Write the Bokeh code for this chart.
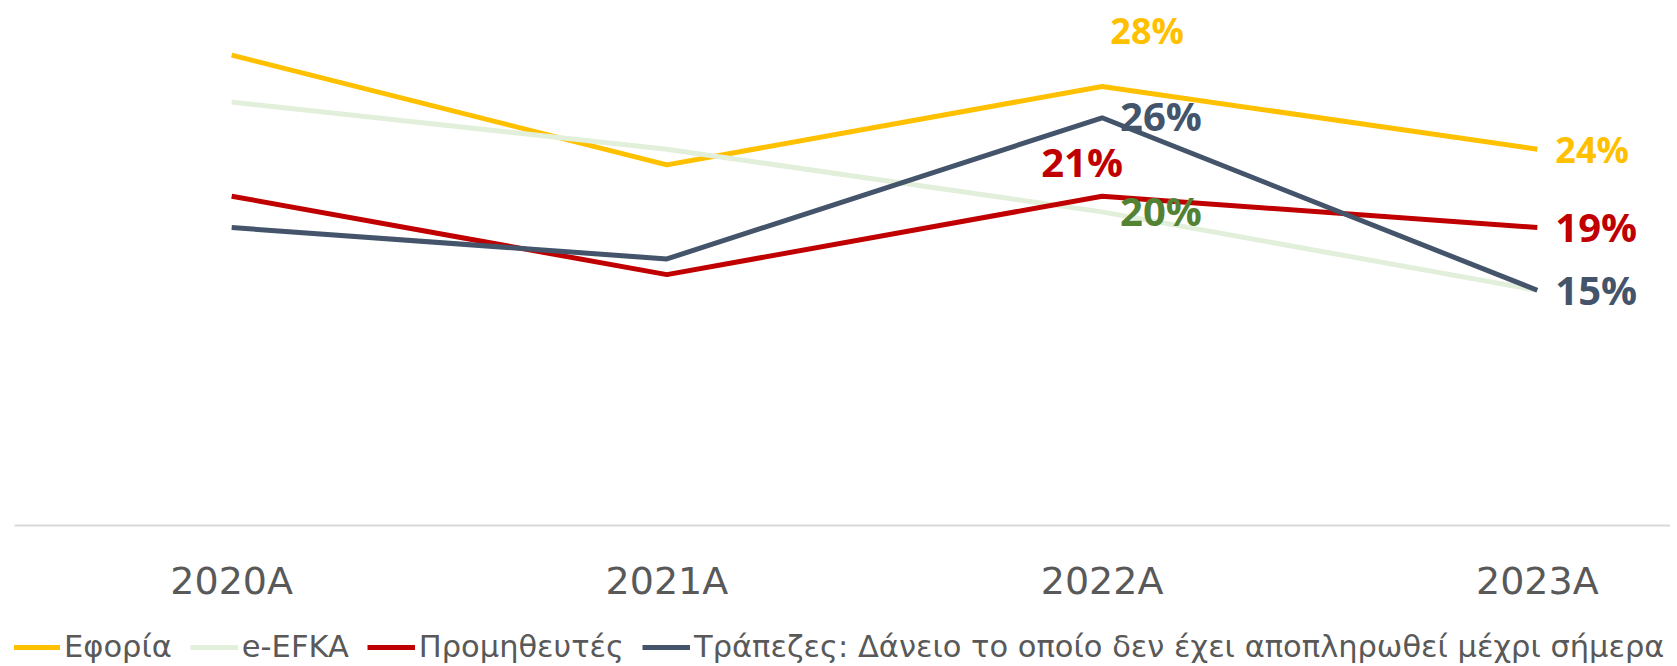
from bokeh.plotting import figure
from bokeh.layouts import column
from bokeh.models import ColumnDataSource, FixedTicker, Legend, LegendItem, Range1d
from bokeh.core.properties import value
from bokeh.embed import file_html
from bokeh.resources import INLINE

# ---- data ----
years = ["2020A", "2021A", "2022A", "2023A"]
eforia = [30, 23, 28, 24]
efka = [27, 24, 20, 15]
promitheutes = [21, 16, 21, 19]
trapezes = [19, 17, 26, 15]

series_names = ["Εφορία", "e-EFKA", "Προμηθευτές",
                "Τράπεζες: Δάνειο το οποίο δεν έχει αποπληρωθεί μέχρι σήμερα"]
series_vals = [eforia, efka, promitheutes, trapezes]
series_colors = ["#FFC000", "#E2EFDA", "#C00000", "#44546A"]

xs = list(range(len(years)))

p = figure(width=1670, height=620, output_backend="svg", toolbar_location=None,
           x_range=Range1d(-0.499, 3.306), y_range=Range1d(0, 32.97),
           y_axis_location=None, min_border_left=14, min_border_right=0,
           min_border_top=8, min_border_bottom=95)
p.outline_line_color = None
p.xgrid.visible = False
p.ygrid.visible = False
p.background_fill_color = "white"
p.border_fill_color = "white"

for name, vals, col in zip(series_names, series_vals, series_colors):
    p.line(xs, vals, line_color=col, line_width=5)

# data labels
lab_x, lab_y, lab_t, lab_c, lab_fs, lab_al, lab_dx, lab_dy = [], [], [], [], [], [], [], []
def add_label(i, vals, color, fs, align, dx, dy):
    lab_x.append(xs[i]); lab_y.append(vals[i]); lab_t.append(f"{vals[i]}%")
    lab_c.append(color); lab_fs.append(fs); lab_al.append(align)
    lab_dx.append(dx); lab_dy.append(dy)

add_label(2, eforia, "#FFC000", "36px", "center", 45, -56)
add_label(3, eforia, "#FFC000", "36px", "left", 18, 0)
add_label(2, trapezes, "#44546A", "40px", "left", 18, -2)
add_label(3, trapezes, "#44546A", "40px", "left", 18, -1)
add_label(2, promitheutes, "#C00000", "40px", "center", -20, -35)
add_label(3, promitheutes, "#C00000", "40px", "left", 18, -1)
add_label(2, efka, "#548235", "40px", "left", 18, -1)

src = ColumnDataSource(dict(x=lab_x, y=lab_y, t=lab_t, c=lab_c, fs=lab_fs,
                            al=lab_al, dx=lab_dx, dy=lab_dy))
p.text(x="x", y="y", text="t", source=src, text_color="c", text_font_size="fs",
       text_align="al", text_baseline="middle", x_offset="dx", y_offset="dy",
       text_font=value("Open Sans"), text_font_style="bold")

# x axis
ax = p.xaxis[0]
ax.ticker = FixedTicker(ticks=xs)
ax.major_label_overrides = {i: y for i, y in zip(xs, years)}
ax.axis_line_color = "#D9D9D9"
ax.axis_line_width = 2
ax.major_tick_line_color = None
ax.minor_tick_line_color = None
ax.major_tick_out = 0
ax.major_label_standoff = 33
ax.major_label_text_font = "DejaVu Sans"
ax.major_label_text_font_size = "38px"
ax.major_label_text_color = "#595959"

# legend strip below the chart (series lines kept out of its visible range)
p2 = figure(width=1670, height=44, output_backend="svg", toolbar_location=None,
            x_axis_location=None, y_axis_location=None,
            x_range=Range1d(0, 1), y_range=Range1d(100, 101),
            min_border_left=0, min_border_right=0, min_border_top=0, min_border_bottom=0)
p2.outline_line_color = None
p2.xgrid.visible = False
p2.ygrid.visible = False
items = []
for name, vals, col in zip(series_names, series_vals, series_colors):
    r = p2.line(xs, vals, line_color=col, line_width=5)
    items.append(LegendItem(label=name, renderers=[r]))

legend = Legend(items=items, orientation="horizontal", location=(-2, 0))
legend.label_text_font = "DejaVu Sans"
legend.label_text_font_size = "30.5px"
legend.label_text_color = "#595959"
legend.glyph_width = 48
legend.glyph_height = 34
legend.label_height = 34
legend.label_standoff = 4
legend.spacing = 18
legend.padding = 0
legend.margin = 0
legend.border_line_color = None
legend.background_fill_alpha = 0
p2.add_layout(legend, "center")

layout = column(p, p2, spacing=0)
open("out.html", "w").write(file_html(layout, INLINE))
